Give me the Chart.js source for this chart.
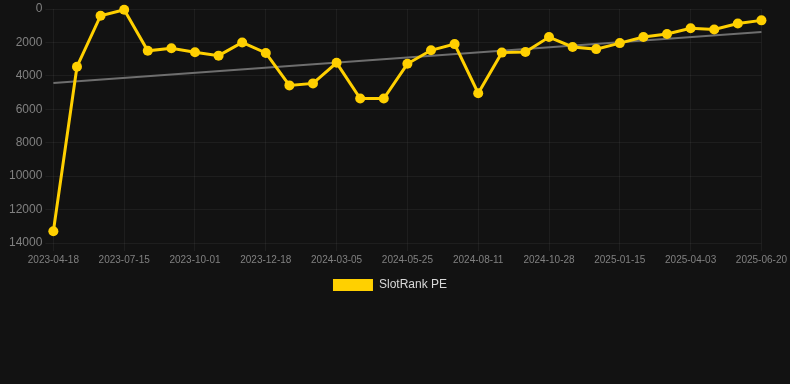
<!DOCTYPE html>
<html>
<head>
<meta charset="utf-8">
<script src="https://cdn.jsdelivr.net/npm/chart.js@4"></script>
<style>
  html, body { margin: 0; padding: 0; background: #121212; }
  #wrap { width: 790px; height: 384px; position: relative; }
</style>
</head>
<body>
<div id="wrap"><canvas id="rankChart"></canvas></div>
<script>
// nhãn ngày (trục x) - chỉ hiện mỗi 3 nhãn
var dates = [
    '2023-04-18', '2023-05-17', '2023-06-15', '2023-07-15', '2023-08-13', '2023-09-07',
    '2023-10-01', '2023-10-27', '2023-11-22', '2023-12-18', '2024-01-13', '2024-02-08',
    '2024-03-05', '2024-03-31', '2024-04-29', '2024-05-25', '2024-06-20', '2024-07-16',
    '2024-08-11', '2024-09-06', '2024-10-02', '2024-10-28', '2024-11-23', '2024-12-20',
    '2025-01-15', '2025-02-10', '2025-03-08', '2025-04-03', '2025-04-29', '2025-05-25',
    '2025-06-20'
];
var rankPE = [
    13300, 3450, 400, 50, 2500, 2350, 2590, 2790, 2000, 2630,
    4570, 4450, 3220, 5360, 5360, 3280, 2470, 2100, 5040, 2610,
    2570, 1680, 2270, 2400, 2040, 1680, 1500, 1150, 1230, 870,
    680
];
// đường xu hướng: chỉ hai đầu mút
var trendStart = 4430;
var trendEnd = 1370;
var yTicks = [0, 2000, 4000, 6000, 8000, 10000, 12000, 14000];

var trend = dates.map(function (d, i) {
    if (i === 0) return trendStart;
    if (i === dates.length - 1) return trendEnd;
    return null;
});

Chart.defaults.font.family = '"Liberation Sans", Arial, sans-serif';

var ctx = document.getElementById('rankChart');
var rankChart = new Chart(ctx, {
    type: 'line',
    data: {
        labels: dates,
        datasets: [{
            label: 'SlotRank PE',
            data: rankPE,
            borderColor: '#ffd000',
            backgroundColor: '#ffd000',
            borderWidth: 3,
            pointRadius: 5,
            pointBackgroundColor: '#ffd000',
            pointBorderWidth: 0,
            tension: 0,
            clip: false,
            order: 1
        }, {
            label: 'trend',
            data: trend,
            borderColor: '#6e6e6e',
            borderWidth: 2,
            pointRadius: 0,
            spanGaps: true,
            order: 2
        }]
    },
    options: {
        responsive: true,
        maintainAspectRatio: false,
        animation: false,
        layout: {
            padding: { left: 6, right: 16, top: 1, bottom: 83 }
        },
        plugins: {
            legend: {
                position: 'bottom',
                labels: {
                    color: '#d8d8d8',
                    boxWidth: 40,
                    boxHeight: 12,
                    font: { size: 12 },
                    generateLabels: function (chart) {
                        var items = Chart.defaults.plugins.legend.labels.generateLabels(chart);
                        items.forEach(function (it) { it.lineWidth = 0; });
                        return items;
                    },
                    filter: function (item) {
                        return item.text !== 'trend';
                    }
                }
            },
            tooltip: { enabled: false }
        },
        scales: {
            x: {
                grid: {
                    color: 'rgba(255,255,255,0.05)'
                },
                border: { display: false },
                ticks: {
                    color: '#808080',
                    autoSkip: false,
                    maxRotation: 0,
                    font: { size: 10 },
                    callback: function (val, index) {
                        return index % 3 === 0 ? dates[index] : null;
                    }
                }
            },
            y: {
                reverse: true,
                min: yTicks[0],
                max: yTicks[yTicks.length - 1],
                grid: {
                    color: 'rgba(255,255,255,0.05)'
                },
                border: { display: false },
                ticks: {
                    stepSize: 2000,
                    color: '#808080',
                    font: { size: 12, lineHeight: 1 },
                    callback: function (val) {
                        return String(val);
                    }
                }
            }
        }
    }
});
</script>
</body>
</html>
